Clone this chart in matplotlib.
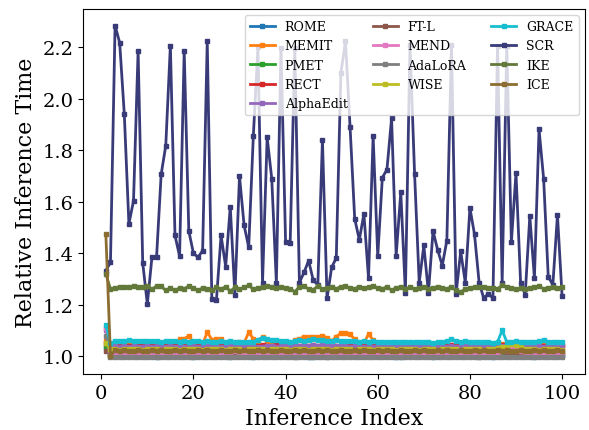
import matplotlib.pyplot as plt

plt.rcParams['font.family'] = 'DejaVu Serif'

index = list(range(1, 101))

rome = [1.030, 1.006, 1.004, 1.002, 1.003, 1.001, 1.000, 1.002, 1.003, 0.999,
        1.001, 0.998, 1.002, 1.003, 1.000, 0.999, 1.001, 1.002, 1.000, 0.998,
        1.001, 1.003, 1.002, 0.999, 1.000, 1.001, 1.002, 0.997, 1.000, 1.001,
        1.003, 0.999, 0.996, 1.001, 1.002, 1.000, 1.001, 0.999, 1.000, 1.002,
        1.001, 0.998, 1.000, 1.001, 0.996, 0.997, 1.000, 1.001, 0.998, 1.000,
        1.002, 0.999, 1.000, 1.001, 1.002, 1.000, 0.999, 1.001, 1.000, 1.002,
        0.999, 1.000, 1.001, 0.997, 0.998, 1.000, 1.001, 0.999, 1.000, 1.002,
        1.001, 0.996, 1.000, 1.001, 0.999, 1.000, 1.002, 1.001, 0.999, 1.000,
        1.001, 0.998, 1.000, 1.002, 0.996, 0.999, 1.000, 1.001, 1.002, 1.000,
        0.999, 1.001, 1.000, 0.998, 1.001, 1.000, 1.002, 0.999, 1.000, 1.001]

memit = [1.060, 1.045, 1.046, 1.044, 1.047, 1.045, 1.043, 1.046, 1.044, 1.045,
         1.043, 1.046, 1.044, 1.045, 1.047, 1.046, 1.066, 1.068, 1.078, 1.052,
         1.048, 1.046, 1.093, 1.064, 1.066, 1.068, 1.050, 1.046, 1.047, 1.055,
         1.052, 1.092, 1.068, 1.058, 1.075, 1.055, 1.046, 1.048, 1.045, 1.047,
         1.046, 1.062, 1.068, 1.074, 1.074, 1.076, 1.075, 1.078, 1.072, 1.058,
         1.076, 1.089, 1.090, 1.084, 1.066, 1.048, 1.050, 1.086, 1.062, 1.048,
         1.046, 1.045, 1.047, 1.044, 1.046, 1.045, 1.043, 1.046, 1.047, 1.045,
         1.044, 1.046, 1.045, 1.047, 1.046, 1.044, 1.045, 1.046, 1.048, 1.045,
         1.044, 1.046, 1.047, 1.045, 1.043, 1.046, 1.048, 1.046, 1.044, 1.045,
         1.046, 1.044, 1.047, 1.045, 1.046, 1.048, 1.044, 1.045, 1.046, 1.045]

pmet = [1.040, 1.006, 1.005, 1.007, 1.004, 1.006, 1.005, 1.003, 1.006, 1.007,
        1.005, 1.004, 1.006, 1.005, 1.007, 1.004, 1.005, 1.006, 1.003, 1.005,
        1.006, 1.004, 1.007, 1.005, 1.006, 1.004, 1.005, 1.006, 1.003, 1.005,
        1.007, 1.004, 1.006, 1.005, 1.004, 1.006, 1.005, 1.007, 1.004, 1.005,
        1.006, 1.003, 1.005, 1.006, 1.004, 1.002, 1.005, 1.006, 1.004, 1.005,
        1.007, 1.005, 1.004, 1.006, 1.005, 1.003, 1.006, 1.005, 1.004, 1.006,
        1.005, 1.007, 1.004, 1.005, 1.006, 1.004, 1.005, 1.003, 1.006, 1.005,
        1.004, 1.002, 1.005, 1.006, 1.004, 1.005, 1.007, 1.005, 1.004, 1.006,
        1.005, 1.003, 1.006, 1.005, 1.004, 1.006, 1.005, 1.007, 1.004, 1.005,
        1.006, 1.004, 1.002, 1.003, 1.005, 1.006, 1.004, 1.005, 1.006, 1.004]

rect = [1.050, 1.040, 1.042, 1.041, 1.043, 1.040, 1.042, 1.041, 1.039, 1.042,
        1.044, 1.041, 1.040, 1.042, 1.043, 1.041, 1.039, 1.042, 1.040, 1.043,
        1.041, 1.042, 1.040, 1.041, 1.043, 1.040, 1.042, 1.041, 1.039, 1.042,
        1.040, 1.041, 1.043, 1.040, 1.042, 1.041, 1.040, 1.042, 1.044, 1.041,
        1.040, 1.042, 1.041, 1.043, 1.040, 1.042, 1.041, 1.039, 1.042, 1.044,
        1.041, 1.040, 1.042, 1.041, 1.043, 1.040, 1.042, 1.041, 1.040, 1.042,
        1.041, 1.043, 1.040, 1.042, 1.041, 1.039, 1.042, 1.040, 1.043, 1.041,
        1.042, 1.040, 1.041, 1.043, 1.040, 1.042, 1.041, 1.040, 1.042, 1.044,
        1.041, 1.040, 1.042, 1.041, 1.043, 1.040, 1.042, 1.041, 1.039, 1.042,
        1.040, 1.041, 1.043, 1.040, 1.042, 1.041, 1.040, 1.042, 1.041, 1.040]

alphaedit = [1.100, 1.036, 1.038, 1.037, 1.039, 1.036, 1.038, 1.035, 1.037, 1.039,
             1.036, 1.038, 1.037, 1.035, 1.038, 1.036, 1.039, 1.037, 1.036, 1.038,
             1.035, 1.037, 1.039, 1.036, 1.038, 1.037, 1.035, 1.038, 1.036, 1.037,
             1.039, 1.036, 1.038, 1.037, 1.036, 1.038, 1.040, 1.037, 1.039, 1.038,
             1.036, 1.039, 1.041, 1.042, 1.040, 1.043, 1.041, 1.042, 1.040, 1.043,
             1.041, 1.039, 1.038, 1.036, 1.038, 1.037, 1.035, 1.038, 1.036, 1.037,
             1.039, 1.036, 1.038, 1.037, 1.035, 1.038, 1.036, 1.039, 1.037, 1.036,
             1.038, 1.035, 1.037, 1.039, 1.036, 1.038, 1.037, 1.035, 1.038, 1.036,
             1.037, 1.039, 1.036, 1.038, 1.037, 1.035, 1.038, 1.036, 1.039, 1.037,
             1.036, 1.038, 1.035, 1.037, 1.039, 1.036, 1.038, 1.037, 1.036, 1.038]

ftl = [1.020, 1.016, 1.017, 1.015, 1.018, 1.016, 1.014, 1.017, 1.015, 1.016,
       1.018, 1.015, 1.017, 1.016, 1.014, 1.017, 1.015, 1.018, 1.016, 1.015,
       1.017, 1.016, 1.014, 1.018, 1.015, 1.016, 1.017, 1.015, 1.016, 1.018,
       1.015, 1.017, 1.016, 1.014, 1.017, 1.015, 1.018, 1.016, 1.015, 1.017,
       1.016, 1.014, 1.018, 1.015, 1.016, 1.017, 1.015, 1.016, 1.018, 1.015,
       1.017, 1.016, 1.014, 1.017, 1.015, 1.018, 1.016, 1.015, 1.017, 1.016,
       1.014, 1.018, 1.015, 1.016, 1.017, 1.015, 1.016, 1.018, 1.015, 1.017,
       1.016, 1.014, 1.017, 1.015, 1.018, 1.016, 1.015, 1.017, 1.016, 1.014,
       1.018, 1.015, 1.016, 1.017, 1.015, 1.016, 1.018, 1.015, 1.017, 1.016,
       1.014, 1.017, 1.015, 1.018, 1.016, 1.015, 1.017, 1.016, 1.014, 1.017]

mend = [1.110, 1.012, 1.010, 1.013, 1.011, 1.009, 1.012, 1.010, 1.014, 1.011,
        1.009, 1.012, 1.010, 1.011, 1.013, 1.010, 1.009, 1.012, 1.011, 1.010,
        1.013, 1.011, 1.009, 1.012, 1.010, 1.011, 1.013, 1.010, 1.020, 1.012,
        1.010, 1.011, 1.013, 1.009, 1.012, 1.010, 1.011, 1.013, 1.010, 1.009,
        1.012, 1.011, 1.010, 1.013, 1.011, 1.009, 1.012, 1.010, 1.011, 1.013,
        1.010, 1.009, 1.012, 1.011, 1.010, 1.013, 1.011, 1.009, 1.012, 1.010,
        1.011, 1.013, 1.010, 1.009, 1.012, 1.011, 1.010, 1.013, 1.011, 1.009,
        1.012, 1.010, 1.011, 1.013, 1.010, 1.009, 1.012, 1.011, 1.010, 1.013,
        1.011, 1.009, 1.012, 1.010, 1.011, 1.013, 1.018, 1.025, 1.030, 1.028,
        1.020, 1.012, 1.010, 1.011, 1.013, 1.010, 1.009, 1.012, 1.011, 1.010]

adalora = [1.080, 0.998, 0.996, 0.997, 0.995, 0.998, 0.996, 0.997, 0.995, 0.996,
           0.998, 0.995, 0.997, 0.996, 0.998, 0.995, 0.997, 0.996, 0.995, 0.998,
           0.996, 0.997, 0.995, 0.998, 0.996, 0.997, 0.995, 0.996, 0.998, 0.995,
           0.997, 0.996, 0.998, 0.995, 0.997, 0.996, 0.995, 0.998, 0.996, 0.997,
           0.995, 0.998, 0.996, 0.997, 0.995, 0.996, 0.998, 0.995, 0.997, 0.996,
           0.998, 0.995, 0.997, 0.996, 0.995, 0.998, 0.996, 0.997, 0.995, 0.998,
           0.996, 0.997, 0.995, 0.996, 0.998, 0.995, 0.997, 0.996, 0.998, 0.995,
           0.997, 0.996, 0.995, 0.998, 0.996, 0.997, 0.995, 0.998, 0.996, 0.997,
           0.995, 0.996, 0.998, 0.995, 0.997, 0.996, 0.998, 0.995, 0.997, 0.996,
           0.995, 0.998, 0.996, 0.997, 0.995, 0.998, 0.996, 0.997, 0.995, 0.996]

wise = [1.050, 1.026, 1.028, 1.025, 1.027, 1.029, 1.026, 1.028, 1.025, 1.027,
        1.026, 1.028, 1.025, 1.029, 1.026, 1.027, 1.025, 1.028, 1.026, 1.029,
        1.027, 1.025, 1.028, 1.026, 1.027, 1.029, 1.025, 1.028, 1.026, 1.027,
        1.025, 1.028, 1.026, 1.029, 1.027, 1.025, 1.028, 1.026, 1.027, 1.029,
        1.025, 1.028, 1.026, 1.027, 1.025, 1.028, 1.026, 1.029, 1.027, 1.025,
        1.028, 1.026, 1.027, 1.029, 1.025, 1.028, 1.026, 1.027, 1.025, 1.028,
        1.026, 1.029, 1.027, 1.025, 1.028, 1.026, 1.027, 1.029, 1.025, 1.028,
        1.026, 1.027, 1.025, 1.028, 1.026, 1.029, 1.027, 1.025, 1.028, 1.026,
        1.027, 1.029, 1.025, 1.028, 1.026, 1.030, 1.035, 1.040, 1.046, 1.044,
        1.036, 1.028, 1.026, 1.027, 1.025, 1.028, 1.026, 1.029, 1.027, 1.025]

grace = [1.120, 1.050, 1.058, 1.060, 1.058, 1.061, 1.059, 1.058, 1.060, 1.057,
         1.058, 1.060, 1.056, 1.058, 1.057, 1.059, 1.056, 1.058, 1.055, 1.057,
         1.058, 1.056, 1.058, 1.055, 1.054, 1.057, 1.055, 1.058, 1.056, 1.053,
         1.055, 1.054, 1.056, 1.064, 1.072, 1.066, 1.061, 1.062, 1.058, 1.060,
         1.056, 1.058, 1.062, 1.059, 1.063, 1.065, 1.061, 1.064, 1.060, 1.058,
         1.062, 1.060, 1.058, 1.057, 1.060, 1.056, 1.058, 1.055, 1.057, 1.054,
         1.056, 1.053, 1.055, 1.054, 1.056, 1.055, 1.053, 1.054, 1.056, 1.053,
         1.055, 1.052, 1.054, 1.056, 1.058, 1.066, 1.058, 1.055, 1.057, 1.054,
         1.056, 1.053, 1.055, 1.054, 1.052, 1.056, 1.100, 1.055, 1.054, 1.058,
         1.056, 1.054, 1.053, 1.055, 1.058, 1.062, 1.056, 1.053, 1.055, 1.054]

scr = [1.332, 1.364, 2.285, 2.218, 1.941, 1.514, 1.603, 2.187, 1.362, 1.202,
       1.384, 1.384, 1.706, 1.818, 2.207, 1.469, 1.388, 2.187, 1.486, 1.400,
       1.384, 1.410, 2.224, 1.221, 1.219, 1.469, 1.348, 1.580, 1.237, 1.699,
       1.508, 1.423, 1.855, 2.200, 1.286, 1.850, 1.690, 1.286, 2.198, 1.445,
       1.440, 2.198, 1.286, 1.325, 1.371, 1.295, 1.277, 1.840, 1.225, 1.345,
       1.381, 2.100, 2.224, 1.889, 1.534, 1.452, 1.553, 1.302, 1.855, 1.388,
       1.694, 1.725, 1.924, 1.391, 1.637, 1.247, 2.211, 1.706, 1.286, 1.430,
       1.247, 1.486, 1.413, 1.352, 1.449, 2.211, 1.243, 1.407, 1.286, 1.576,
       1.473, 1.286, 1.225, 1.243, 1.225, 2.207, 1.286, 2.207, 1.443, 1.712,
       1.286, 1.238, 1.544, 1.303, 1.882, 1.689, 1.309, 1.277, 1.549, 1.234]

ike = [1.319, 1.261, 1.265, 1.269, 1.270, 1.269, 1.272, 1.269, 1.267, 1.272,
       1.260, 1.272, 1.271, 1.255, 1.265, 1.255, 1.265, 1.262, 1.272, 1.265,
       1.255, 1.265, 1.260, 1.255, 1.267, 1.260, 1.270, 1.252, 1.267, 1.260,
       1.267, 1.275, 1.260, 1.265, 1.270, 1.272, 1.267, 1.265, 1.267, 1.265,
       1.262, 1.250, 1.269, 1.272, 1.260, 1.258, 1.272, 1.260, 1.265, 1.269,
       1.262, 1.270, 1.272, 1.265, 1.262, 1.270, 1.264, 1.268, 1.271, 1.266,
       1.262, 1.269, 1.256, 1.265, 1.270, 1.262, 1.267, 1.262, 1.265, 1.268,
       1.260, 1.265, 1.270, 1.266, 1.262, 1.268, 1.255, 1.250, 1.260, 1.265,
       1.268, 1.270, 1.268, 1.265, 1.266, 1.262, 1.275, 1.268, 1.264, 1.260,
       1.265, 1.262, 1.266, 1.268, 1.271, 1.262, 1.265, 1.268, 1.266, 1.267]

ice = [1.473, 1.002, 1.022, 1.020, 1.023, 1.021, 1.019, 1.022, 1.020, 1.021,
       1.023, 1.020, 1.022, 1.019, 1.021, 1.023, 1.020, 1.022, 1.021, 1.019,
       1.022, 1.020, 1.023, 1.021, 1.020, 1.022, 1.019, 1.021, 1.023, 1.020,
       1.022, 1.021, 1.019, 1.022, 1.020, 1.023, 1.021, 1.020, 1.022, 1.019,
       1.021, 1.023, 1.020, 1.022, 1.021, 1.019, 1.022, 1.020, 1.023, 1.021,
       1.020, 1.022, 1.019, 1.021, 1.023, 1.020, 1.022, 1.021, 1.019, 1.022,
       1.020, 1.023, 1.021, 1.020, 1.022, 1.019, 1.021, 1.023, 1.020, 1.022,
       1.021, 1.019, 1.022, 1.020, 1.023, 1.021, 1.020, 1.022, 1.019, 1.021,
       1.023, 1.020, 1.022, 1.021, 1.019, 1.022, 1.020, 1.023, 1.021, 1.020,
       1.022, 1.019, 1.021, 1.023, 1.020, 1.022, 1.021, 1.019, 1.022, 1.020]

methods = ['ROME', 'MEMIT', 'PMET', 'RECT', 'AlphaEdit', 'FT-L', 'MEND',
           'AdaLoRA', 'WISE', 'GRACE', 'SCR', 'IKE', 'ICE']
series = [rome, memit, pmet, rect, alphaedit, ftl, mend, adalora, wise,
          grace, scr, ike, ice]

tab20b = plt.get_cmap('tab20b').colors
colors = ['C0', 'C1', 'C2', 'C3', 'C4', 'C5', 'C6', 'C7', 'C8', 'C9',
          tab20b[0], tab20b[4], tab20b[8]]

fig, ax = plt.subplots(figsize=(5.89, 4.31), dpi=100)
for name, vals, c in zip(methods, series, colors):
    ax.plot(index, vals, marker='s', markersize=3, linewidth=2,
            color=c, label=name)

ax.set_xlabel('Inference Index', fontsize=16)
ax.set_ylabel('Relative Inference Time', fontsize=16)
ax.tick_params(labelsize=14)
ax.legend(loc='upper right', ncol=3, fontsize=9)

plt.subplots_adjust(left=0.141, right=0.993, top=0.977, bottom=0.13)
plt.savefig('out.png')
